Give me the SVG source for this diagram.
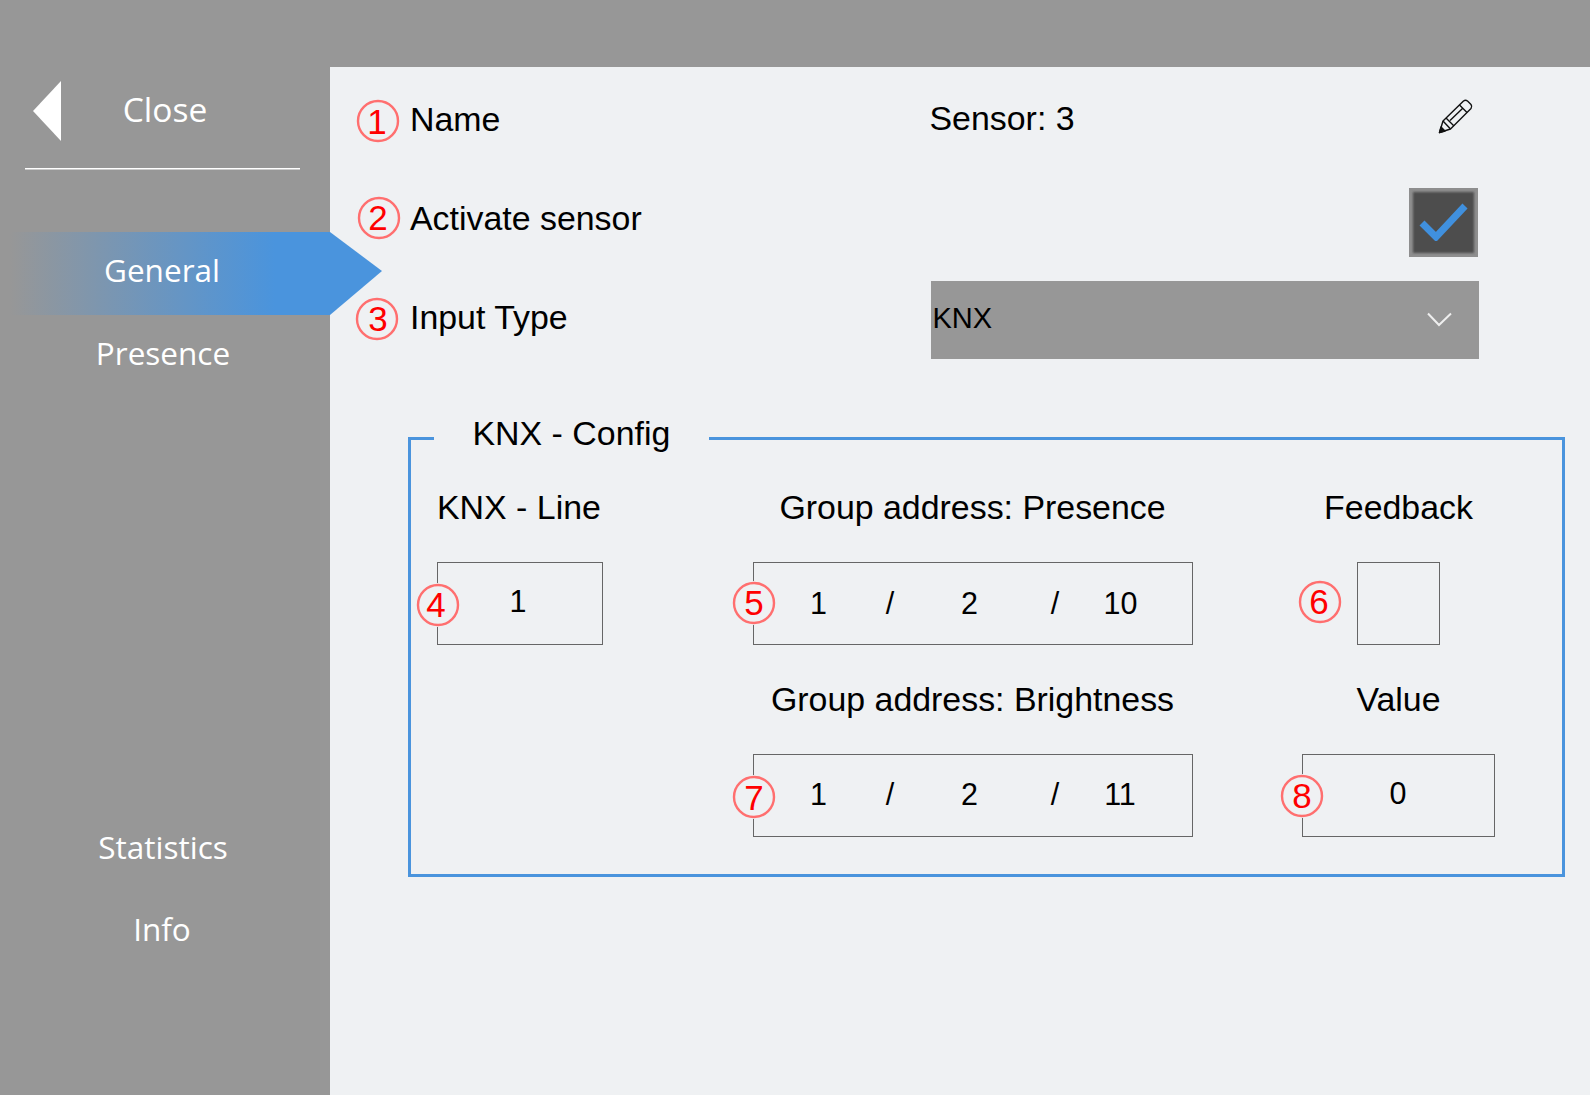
<svg xmlns="http://www.w3.org/2000/svg" width="1590" height="1095" viewBox="0 0 1590 1095">
<style>
.t{font-family:"Liberation Sans",Arial,sans-serif;font-size:33.900px;fill:#000}
.n{font-family:"Liberation Sans",Arial,sans-serif;font-size:30.500px;fill:#000;text-anchor:middle}
.c{text-anchor:middle}
.s{font-family:"Open Sans","Noto Sans",sans-serif;font-size:31.500px;fill:#fff;text-anchor:middle}
.box{fill:none;stroke:#666;stroke-width:1}
.mh{fill:#eff1f3}
.mc{fill:none;stroke:#ff6f6f;stroke-width:2.400}
.mt{font-family:"Liberation Sans",Arial,sans-serif;font-size:35px;fill:#f00;text-anchor:middle}
</style>
<defs>
<linearGradient id="g" gradientUnits="userSpaceOnUse" x1="10" y1="0" x2="275" y2="0">
<stop offset="0" stop-color="#979797"/>
<stop offset="1" stop-color="#4a94dd"/>
</linearGradient>
<filter id="b" x="-10%" y="-10%" width="120%" height="120%"><feGaussianBlur stdDeviation="1.200"/></filter>
<filter id="b2" x="-10%" y="-10%" width="120%" height="120%"><feGaussianBlur stdDeviation="0.600"/></filter>
</defs>
<rect width="1590" height="1095" fill="#979797"/>
<rect x="330" y="67" width="1260" height="1028" fill="#eff1f3"/>
<g id="sidebar">
<polygon points="33,111 61,81 61,141" fill="#fff"/>
<text class="s" x="165" y="122" style="font-size:33.500px">Close</text>
<rect x="25" y="168" width="275" height="1.500" fill="#fff"/>
<polygon points="10,232 330,232 382,271 330,315 10,315" fill="url(#g)"/>
<text class="s" x="162" y="281.500">General</text>
<text class="s" x="163" y="364.500">Presence</text>
<text class="s" x="163" y="859">Statistics</text>
<text class="s" x="162" y="941">Info</text>
</g>
<g id="row-name">
<text class="t" x="410" y="131">Name</text>
<text class="t" x="929.500" y="129.500">Sensor: 3</text>
<g id="pencil" fill="none" stroke="#111" stroke-width="1.400" stroke-linejoin="round">
<path d="M1439.500 132.500L1443 121L1463.500 101Q1465.500 99.500 1467.500 101L1471 104.500Q1472.500 106.500 1471 108.500L1450.500 129Z"/>
<path d="M1443 121L1450.500 129M1446 118L1454 126M1459.500 105L1467 112.500M1450 120.500L1462.500 108.500"/>
<path d="M1439.500 132.500L1441 127L1445 131Z" fill="#111"/>
</g>
</g>
<g id="row-activate">
<text class="t" x="410" y="230">Activate sensor</text>
<rect x="1409" y="188" width="69" height="69" fill="#8e8e8e"/>
<rect x="1413" y="192" width="61" height="61" fill="#4d4d4d" filter="url(#b)"/>
<path d="M1422 223L1436 237L1465 206" fill="none" stroke="#3f90de" stroke-width="7" filter="url(#b2)"/>
</g>
<g id="row-input">
<text class="t" x="410" y="329">Input Type</text>
<rect x="931" y="281" width="548" height="78" fill="#979797"/>
<text x="932.500" y="328" font-family="Liberation Sans,Arial,sans-serif" font-size="29" fill="#000">KNX</text>
<path d="M1428 313.500L1439 325L1451 313.500" fill="none" stroke="#eee" stroke-width="2"/>
</g>
<g id="config">
<path d="M434 438.500H409.500V875.500H1563.500V438.500H709" fill="none" stroke="#4a94dd" stroke-width="3"/>
<text class="t" x="472.500" y="445">KNX - Config</text>
<text class="t" x="437" y="519">KNX - Line</text>
<text class="t c" x="972.500" y="519">Group address: Presence</text>
<text class="t c" x="1398.500" y="519">Feedback</text>
<text class="t c" x="972.500" y="711">Group address: Brightness</text>
<text class="t c" x="1398.500" y="711">Value</text>
</g>
<g id="field-line"><rect class="box" x="437.500" y="562.500" width="165" height="82"/><text class="n" x="518" y="612">1</text></g>
<g id="field-presence"><rect class="box" x="753.500" y="562.500" width="439" height="82"/>
<text class="n" x="818.500" y="614">1</text><text class="n" x="890" y="614">/</text><text class="n" x="969.500" y="614">2</text><text class="n" x="1055" y="614">/</text><text class="n" x="1120.500" y="614">10</text></g>
<g id="field-feedback"><rect class="box" x="1357.500" y="562.500" width="82" height="82"/></g>
<g id="field-brightness"><rect class="box" x="753.500" y="754.500" width="439" height="82"/>
<text class="n" x="818.500" y="805">1</text><text class="n" x="890" y="805">/</text><text class="n" x="969.500" y="805">2</text><text class="n" x="1055" y="805">/</text><text class="n" x="1120" y="805">11</text></g>
<g id="field-value"><rect class="box" x="1302.500" y="754.500" width="192" height="82"/><text class="n" x="1398" y="804">0</text></g>
<g id="markers">
<g id="m1"><circle class="mh" cx="378" cy="121" r="22"/><circle class="mc" cx="378" cy="121" r="20"/><text class="mt" x="377" y="134">1</text></g>
<g id="m2"><circle class="mh" cx="379" cy="218" r="22"/><circle class="mc" cx="379" cy="218" r="20"/><text class="mt" x="378" y="230">2</text></g>
<g id="m3"><circle class="mh" cx="377" cy="319" r="22"/><circle class="mc" cx="377" cy="319" r="20"/><text class="mt" x="378" y="331">3</text></g>
<g id="m4"><circle class="mh" cx="438" cy="605" r="22"/><circle class="mc" cx="438" cy="605" r="20"/><text class="mt" x="436" y="617">4</text></g>
<g id="m5"><circle class="mh" cx="754" cy="603" r="22"/><circle class="mc" cx="754" cy="603" r="20"/><text class="mt" x="754" y="615">5</text></g>
<g id="m6"><circle class="mh" cx="1320" cy="602" r="22"/><circle class="mc" cx="1320" cy="602" r="20"/><text class="mt" x="1319" y="614">6</text></g>
<g id="m7"><circle class="mh" cx="754" cy="797" r="22"/><circle class="mc" cx="754" cy="797" r="20"/><text class="mt" x="754" y="810">7</text></g>
<g id="m8"><circle class="mh" cx="1302" cy="796" r="22"/><circle class="mc" cx="1302" cy="796" r="20"/><text class="mt" x="1302" y="808">8</text></g>
</g>
</svg>
